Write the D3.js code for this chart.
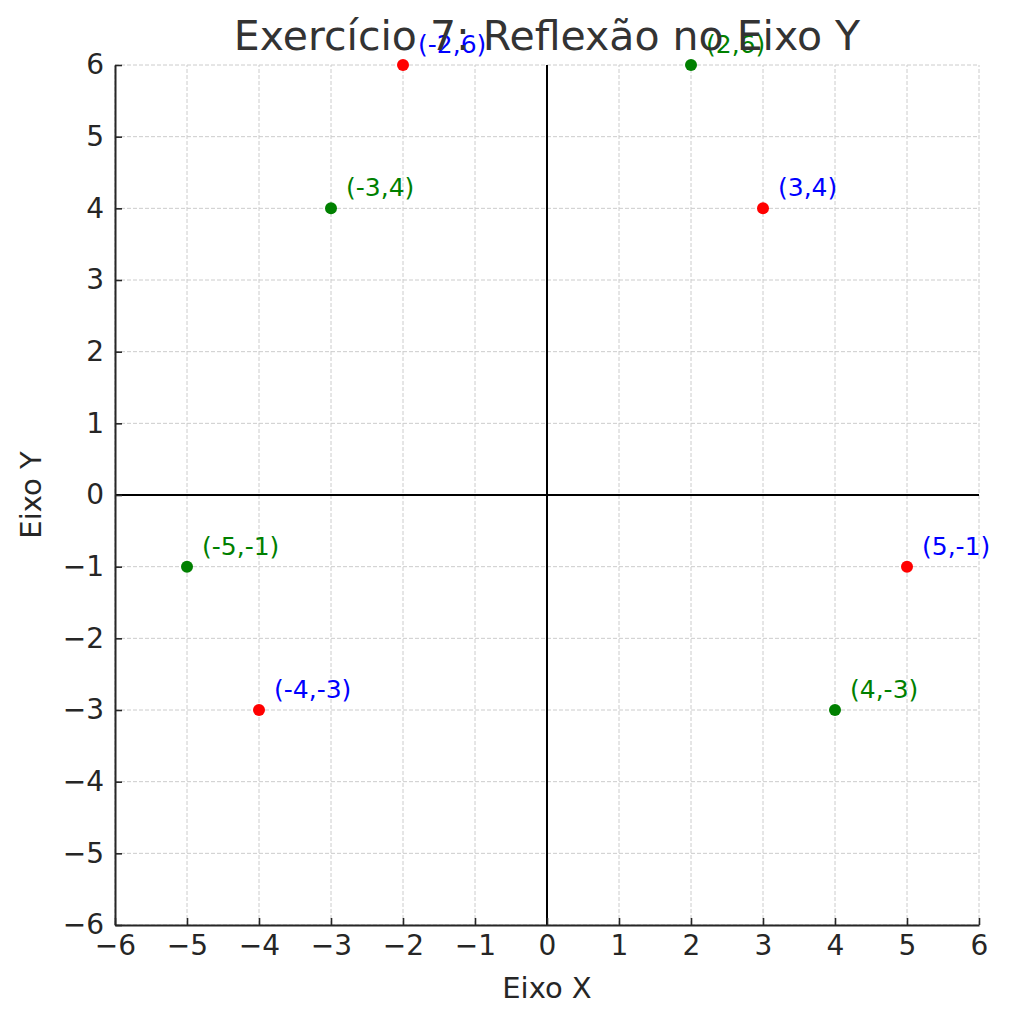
<!DOCTYPE html>
<html><head><meta charset="utf-8">
<script src="https://cdn.jsdelivr.net/npm/d3@7"></script>
<style>body{margin:0;background:#fff;} text{font-family:"DejaVu Sans",sans-serif;}</style>
</head><body>
<svg id="c" width="1010" height="1024"></svg>
<script>
const ticks = [-6,-5,-4,-3,-2,-1,0,1,2,3,4,5,6];
const originalX = [-2, 3, 5, -4];
const originalY = [6, 4, -1, -3];
const reflectedX = [2, -3, -5, 4];
const reflectedY = [6, 4, -1, -3];
const originalLabels = ["(-2,6)", "(3,4)", "(5,-1)", "(-4,-3)"];
const reflectedLabels = ["(2,6)", "(-3,4)", "(-5,-1)", "(4,-3)"];

const svg = d3.select("#c");
const x = d3.scaleLinear().domain([-6,6]).range([115,979]);
const y = d3.scaleLinear().domain([-6,6]).range([925,65]);
const fmt = d => d < 0 ? "\u2212" + Math.abs(d) : String(d);

// grid
const g = svg.append("g");
g.selectAll(".gx").data(ticks).join("line")
  .attr("x1", d=>x(d)).attr("x2", d=>x(d)).attr("y1", y(-6)).attr("y2", y(6))
  .attr("stroke", "#cccccc").attr("stroke-width", 1).attr("stroke-dasharray", "4,2");
g.selectAll(".gy").data(ticks).join("line")
  .attr("y1", d=>y(d)).attr("y2", d=>y(d)).attr("x1", x(-6)).attr("x2", x(6))
  .attr("stroke", "#cccccc").attr("stroke-width", 1).attr("stroke-dasharray", "4,2");

// zero lines
svg.append("line").attr("x1", x(-6)).attr("x2", x(6)).attr("y1", y(0)).attr("y2", y(0))
  .attr("stroke", "#000").attr("stroke-width", 2);
svg.append("line").attr("x1", x(0)).attr("x2", x(0)).attr("y1", y(-6)).attr("y2", y(6))
  .attr("stroke", "#000").attr("stroke-width", 2);

// axes
const xAxis = d3.axisBottom(x).tickValues(ticks).tickFormat(fmt).tickSizeInner(-7).tickSizeOuter(0).tickPadding(10);
const yAxis = d3.axisLeft(y).tickValues(ticks).tickFormat(fmt).tickSizeInner(-7).tickSizeOuter(0).tickPadding(11);
const gx = svg.append("g").attr("transform", `translate(0,${y(-6)})`).call(xAxis);
const gy = svg.append("g").attr("transform", `translate(${x(-6)},0)`).call(yAxis);
[gx, gy].forEach(a => {
  a.select(".domain").attr("stroke", "#262626").attr("stroke-width", 2);
  a.selectAll(".tick line").attr("stroke", "#262626").attr("stroke-width", 1.6);
  a.selectAll(".tick text").attr("font-size", 28).attr("fill", "#262626").attr("font-family", "DejaVu Sans");
});

// points
function series(xs, ys, labels, pc, lc) {
  const data = xs.map((v,i)=>({x:v, y:ys[i], l:labels[i]}));
  svg.append("g").selectAll("circle").data(data).join("circle")
    .attr("cx", d=>x(d.x)).attr("cy", d=>y(d.y)).attr("r", 6).attr("fill", pc);
  svg.append("g").selectAll("text").data(data).join("text")
    .attr("x", d=>x(d.x)+15).attr("y", d=>y(d.y)-12)
    .attr("font-size", 25).attr("fill", lc).text(d=>d.l);
}
series(originalX, originalY, originalLabels, "#ff0000", "#0000ff");
series(reflectedX, reflectedY, reflectedLabels, "#008000", "#008000");

// title and labels
svg.append("text").attr("x", 547).attr("y", 50).attr("text-anchor", "middle")
  .attr("font-size", 41).attr("fill", "#333333").text("Exercício 7: Reflexão no Eixo Y");
svg.append("text").attr("x", 547).attr("y", 998).attr("text-anchor", "middle")
  .attr("font-size", 29).attr("fill", "#262626").text("Eixo X");
svg.append("text").attr("transform", "translate(41,495) rotate(-90)").attr("text-anchor", "middle")
  .attr("font-size", 29).attr("fill", "#262626").text("Eixo Y");
</script>
</body></html>
